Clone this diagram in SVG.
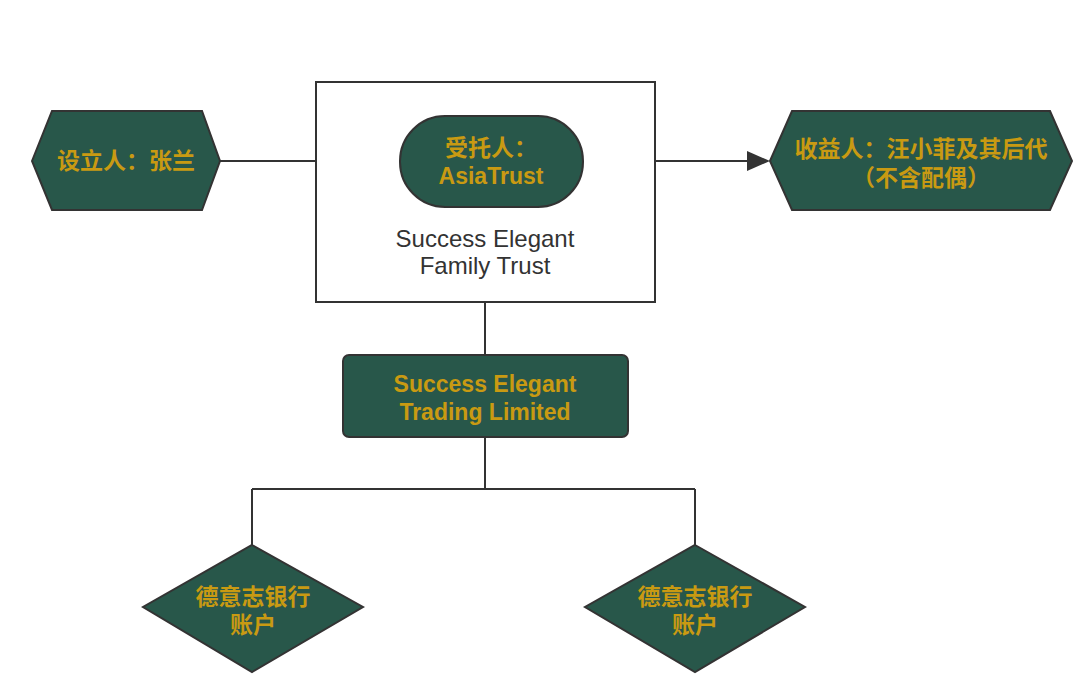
<svg xmlns="http://www.w3.org/2000/svg" width="1080" height="698" viewBox="0 0 1080 698">
<style>
.shape{fill:#28574A;stroke:#333333;stroke-width:2}
.box{fill:#ffffff;stroke:#333333;stroke-width:2}
.gold{fill:#C99A12;font-family:"Liberation Sans","Noto Sans CJK SC",sans-serif;font-size:23px;font-weight:bold;text-anchor:middle}
.dark{fill:#333333;font-family:"Liberation Sans","Noto Sans CJK SC",sans-serif;font-size:24px;text-anchor:middle}
.conn{fill:none;stroke:#333333;stroke-width:2}
</style>
<rect width="1080" height="698" fill="#ffffff"/>
<g id="connectors">
<path class="conn" d="M220,161 L316,161"/>
<path class="conn" d="M655,161 L747,161"/>
<path d="M747,151 L770,161 L747,171 Z" fill="#333333"/>
<path class="conn" d="M485,302 L485,355"/>
<path class="conn" d="M485,437 L485,489 M252,489 L695,489 M252,489 L252,545 M695,489 L695,545"/>
</g>
<g id="trust">
<rect class="box" x="316" y="82" width="339" height="220"/>
<text class="dark" x="485" y="247">Success Elegant</text>
<text class="dark" x="485" y="274">Family Trust</text>
</g>
<g id="trustee">
<rect class="shape" x="400" y="116" width="183" height="91" rx="45" ry="45"/>
<text class="gold" x="491" y="156">受托人：</text>
<text class="gold" x="491" y="184">AsiaTrust</text>
</g>
<g id="settlor">
<polygon class="shape" points="32,161 52,111 202,111 220,161 202,210 52,210"/>
<text class="gold" x="126" y="169">设立人：张兰</text>
</g>
<g id="beneficiary">
<polygon class="shape" points="770,161 792,111 1050,111 1072,161 1050,210 792,210"/>
<text class="gold" x="921" y="157">收益人：汪小菲及其后代</text>
<text class="gold" x="921" y="186">（不含配偶）</text>
</g>
<g id="company">
<rect class="shape" x="343" y="355" width="285" height="82" rx="6" ry="6"/>
<text class="gold" x="485" y="392">Success Elegant</text>
<text class="gold" x="485" y="420">Trading Limited</text>
</g>
<g id="bank1">
<polygon class="shape" points="252,545 363,607 252,672 143,607"/>
<text class="gold" x="253" y="605">德意志银行</text>
<text class="gold" x="253" y="633">账户</text>
</g>
<g id="bank2">
<polygon class="shape" points="695,545 805,607 695,672 585,607"/>
<text class="gold" x="695" y="605">德意志银行</text>
<text class="gold" x="695" y="633">账户</text>
</g>
</svg>
